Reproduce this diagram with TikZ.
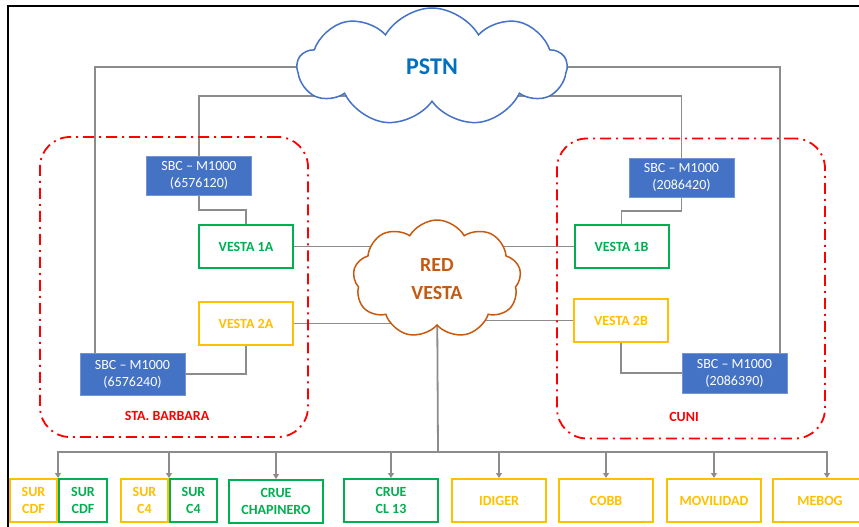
\documentclass[tikz,border=0pt]{standalone}
\usepackage{fontspec}
\setmainfont{Carlito}
\usetikzlibrary{positioning}
\usetikzlibrary{arrows.meta, shapes.symbols, backgrounds}

\definecolor{sbcblue}{HTML}{4472C4}
\definecolor{pstnblue}{HTML}{0070C0}
\definecolor{vestaorange}{HTML}{C55A11}
\definecolor{okgreen}{HTML}{00B050}
\definecolor{okyellow}{HTML}{FFC000}
\definecolor{linkgray}{HTML}{8C8C8C}

\begin{document}
\begin{tikzpicture}[x=1pt, y=-1pt,
    sbc/.style={rectangle, fill=sbcblue, draw=sbcblue!75!white,
                text=white, minimum width=105pt, minimum height=40pt,
                inner sep=0pt, align=center,
                font=\fontsize{14}{17}\selectfont},
    sitebox/.style={rectangle, draw=#1, text=#1, line width=2pt,
                fill=white, minimum width=94pt, minimum height=43pt,
                inner sep=0pt, align=center,
                font=\fontsize{14}{17}\selectfont\bfseries},
    netcloud/.style={cloud, cloud puffs=9, cloud puff arc=120,
                cloud ignores aspect, draw=#1, line width=1.5pt,
                fill=white, inner sep=0pt, align=center},
    link/.style={draw=linkgray, line width=1.8pt},
    drop/.style={link, -{Triangle[width=6pt, length=5pt]}},
    zone/.style={draw=red, line width=1.8pt, rounded corners=30pt,
                dash pattern=on 11pt off 5pt on 2pt off 5pt,
                minimum width=268pt, minimum height=300pt},
    zonelabel/.style={text=red, font=\fontsize{14}{17}\selectfont\bfseries}]

   \useasboundingbox (0,0) rectangle (859,527);
   % frame
   \draw[line width=2.5pt] (8,527) -- (8,6) -- (859,6);

   % sites
   \node[zone] (barbara) at (174,287) {};
   \node[zone] (cuni) at (691,288.5) {};
   \node[zonelabel] (barbaralbl) at (167,416) {STA. BARBARA};
   \node[zonelabel] (cunilbl) at (684,417) {CUNI};

   % clouds
   \node[netcloud=sbcblue,
          minimum width=269pt,
          minimum height=118pt,
          text=pstnblue,
          font=\fontsize{24}{28}\selectfont\bfseries] (pstn) at (432,67) {PSTN};
   \node[netcloud=vestaorange,
          minimum width=168pt,
          minimum height=118pt,
          text=vestaorange,
          font=\fontsize{20}{28}\selectfont\bfseries] (redvesta) at (437,279) {RED\\VESTA};

   % SBC
   \node[sbc, minimum height=39pt] (sbcA1) at (199,175.5) {SBC -- M1000\\(6576120)};
   \node[sbc, minimum height=39pt] (sbcB1) at (681.5,177.5) {SBC -- M1000\\(2086420)};
   \node[sbc, minimum height=42pt] (sbcA2) at (132.5,374) {SBC -- M1000\\(6576240)};
   \node[sbc] (sbcB2) at (734.5,373) {SBC -- M1000\\(2086390)};

   % VESTA
   \node[sitebox=okgreen] (v1A) at (246,246.5) {VESTA 1A};
   \node[sitebox=okgreen] (v1B) at (621.5,246.5) {VESTA 1B};
   \node[sitebox=okyellow] (v2A) at (246,323.5) {VESTA 2A};
   \node[sitebox=okyellow] (v2B) at (621,320.5) {VESTA 2B};

   % bottom row
   \node[sitebox=okyellow, minimum width=47pt] (surCDFy) at (33.5,500.5) {SUR\\CDF};
   \node[sitebox=okgreen, minimum width=48pt, right=0pt of surCDFy] (surCDFg) {SUR\\CDF};
   \node[sitebox=okyellow, minimum width=47pt] (surC4y) at (144.5,500.5) {SUR\\C4};
   \node[sitebox=okgreen, minimum width=47pt, right=0pt of surC4y] (surC4g) {SUR\\C4};
   \node[sitebox=okgreen] (crueChap) at (276,501.5) {CRUE\\CHAPINERO};
   \node[sitebox=okgreen] (crueCL) at (391,500.5) {CRUE\\CL 13};
   \node[sitebox=okyellow] (idiger) at (499,500.5) {IDIGER};
   \node[sitebox=okyellow] (cobb) at (606,500.5) {COBB};
   \node[sitebox=okyellow] (movilidad) at (714,500.5) {MOVILIDAD};
   \node[sitebox=okyellow] (mebog) at (820,500.5) {MEBOG};

   \coordinate (trunk) at (438,452);

   \begin{scope}[on background layer]
    \draw[link] (pstn.center) -| ([xshift=15pt]sbcA2.north west);
    \draw[link] ([yshift=-29pt]pstn.center) -| (sbcA1.north);
    \draw[link] (pstn.center) -| ([xshift=-7pt]sbcB2.north east);
    \draw[link] ([yshift=-29pt]pstn.center) -| (sbcB1.north);
    \draw[link] (sbcA1.south) -- ++(0,15) -| (v1A.north);
    \draw[link] (sbcB1.south) -- ++(0,14) -| (v1B.north);
    \draw[link] (v2A.south) |- (sbcA2.east);
    \draw[link] (v2B.south) |- (sbcB2.west);
    \draw[link] (v1A.east) -- (redvesta.center |- v1A.east);
    \draw[link] (v1B.west) -- (redvesta.center |- v1B.west);
    \draw[link] (v2A.east) -- (redvesta.center |- v2A.east);
    \draw[link] (v2B.west) -- (redvesta.center |- v2B.west);
    \draw[link] (redvesta.center) -- (trunk);
   \end{scope}

   \draw[drop] (trunk) -| (surCDFg.north west);
   \draw[drop] (trunk) -| (surC4g.north west);
   \draw[drop] (trunk) -| (crueChap.north);
   \draw[drop] (trunk) -| (crueCL.north);
   \draw[drop] (trunk) -| (idiger.north);
   \draw[drop] (trunk) -| (cobb.north);
   \draw[drop] (trunk) -| (movilidad.north);
   \draw[drop] (trunk) -| ([xshift=7pt]mebog.north);
\end{tikzpicture}
\end{document}
